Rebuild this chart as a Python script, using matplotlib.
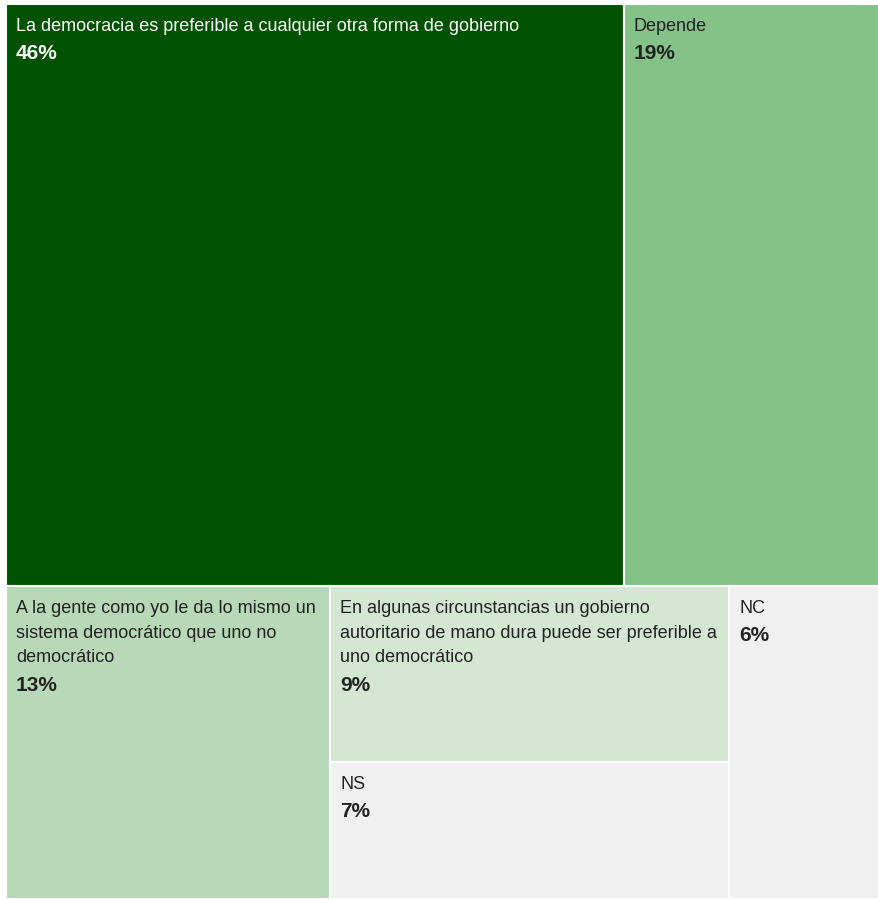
import matplotlib
matplotlib.use("Agg")
import matplotlib.pyplot as plt
from matplotlib.patches import Rectangle

plt.rcParams['font.family'] = ['Liberation Sans', 'DejaVu Sans']

labels = [
    "La democracia es preferible a cualquier otra forma de gobierno",
    "Depende",
    "A la gente como yo le da lo mismo un\nsistema democrático que uno no\ndemocrático",
    "En algunas circunstancias un gobierno\nautoritario de mano dura puede ser preferible a\nuno democrático",
    "NS",
    "NC",
]
values = [46, 19, 13, 9, 7, 6]
colors = ["#005200", "#85c287", "#b7d9b7", "#d3e7d3", "#f0f0f0", "#f0f0f0"]
text_colors = ["white", "#222222", "#222222", "#222222", "#222222", "#222222"]

W, H = 873, 895
fig = plt.figure(figsize=(8.79, 8.99), dpi=100)
ax = fig.add_axes([6 / 879, 0, W / 879, H / 899])
ax.set_xlim(0, W)
ax.set_ylim(H, 0)
ax.axis("off")

total = sum(values)
rects = []
# top row: values[0], values[1]
top_h = H * (values[0] + values[1]) / total
x = 0
for v in values[:2]:
    w = W * v / (values[0] + values[1])
    rects.append((x, 0, w, top_h))
    x += w
# bottom row: values[2], (values[3]+values[4]), values[5]
bot_h = H - top_h
bot_total = sum(values[2:])
w2 = W * values[2] / bot_total
rects.append((0, top_h, w2, bot_h))
wm = W * (values[3] + values[4]) / bot_total
h3 = bot_h * values[3] / (values[3] + values[4])
rects.append((w2, top_h, wm, h3))
rects.append((w2, top_h + h3, wm, bot_h - h3))
w5 = W * values[5] / bot_total
rects.append((w2 + wm, top_h, w5, bot_h))

for (x0, y0, w, h), lab, v, c, tc in zip(rects, labels, values, colors, text_colors):
    ax.add_patch(Rectangle((x0, y0), w, h, facecolor=c, edgecolor="white", linewidth=1.5))
    nlines = lab.count("\n") + 1
    ax.text(x0 + 10, y0 + 14, lab, ha="left", va="top", fontsize=13,
            color=tc, linespacing=1.6)
    ax.text(x0 + 10, y0 + 14 + nlines * 25 + 1, f"{v}%", ha="left", va="top",
            fontsize=15, fontweight="bold", color=tc)

fig.savefig("out.png", dpi=100)
